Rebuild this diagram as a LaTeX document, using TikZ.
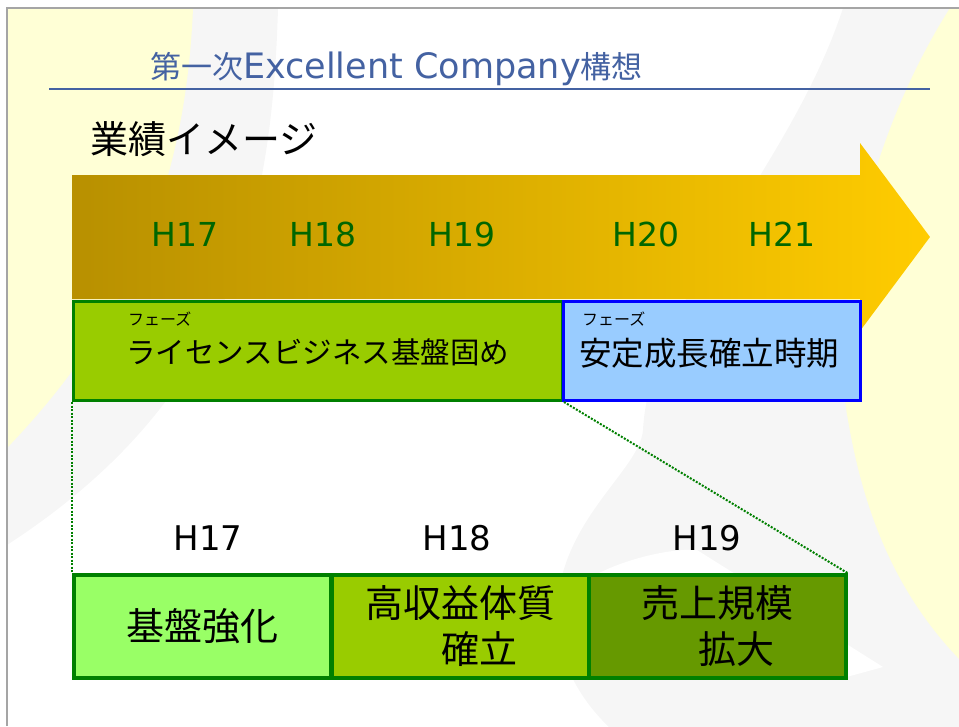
\documentclass[tikz,border=0pt]{standalone}
\usepackage{fontspec}
\setmainfont{DejaVu Sans}
\newfontfamily\cjk{Noto Sans CJK JP}
\usetikzlibrary{positioning}

\definecolor{titleblue}{RGB}{68,98,162}
\definecolor{bgyellow}{RGB}{255,255,214}
\definecolor{bggray}{RGB}{246,246,246}
\definecolor{framegray}{RGB}{165,165,165}
\definecolor{arrowdark}{RGB}{184,144,0}
\definecolor{arrowlight}{RGB}{255,204,0}
\definecolor{yeargreen}{RGB}{0,102,0}
\definecolor{phasegreen}{RGB}{153,204,0}
\definecolor{phaseblue}{RGB}{153,204,255}
\definecolor{stepbright}{RGB}{153,255,102}
\definecolor{stepdark}{RGB}{102,153,0}
\definecolor{edgegreen}{RGB}{0,128,0}

\begin{document}
\begin{tikzpicture}[
        x=1pt, y=-1pt,
        phase/.style={rectangle, anchor=north west, line width=3pt, inner sep=0pt, minimum height=99pt},
        stepbox/.style={rectangle, anchor=north west, draw=edgegreen, line width=3.5pt, inner sep=0pt, minimum width=257pt, minimum height=103pt, align=center, font=\cjk\fontsize{38}{46}\selectfont},
        year/.style={text=yeargreen, inner sep=0pt, font=\fontsize{33}{33}\selectfont},
        subyear/.style={inner sep=0pt, font=\fontsize{34}{34}\selectfont},
        phasetag/.style={anchor=west, inner sep=0pt, font=\cjk\fontsize{16}{16}\selectfont},
        phasename/.style={anchor=west, inner sep=0pt, font=\cjk\fontsize{32.5}{32.5}\selectfont},
        zoomline/.style={edgegreen, line width=2pt, dash pattern=on 2pt off 1.5pt}
    ]
    \useasboundingbox (0,0) rectangle (959,726);

    % Background
    \begin{scope}
        \clip (7,8) rectangle (959,726);
        \fill[bggray] (7,8) -- (278,8) .. controls (272,220) and (230,400) .. (7,545) -- cycle;
        \fill[bgyellow] (7,8) -- (193,8) .. controls (185,200) and (120,330) .. (7,448) -- cycle;
        \fill[bggray] (843,8) .. controls (790,170) and (650,300) .. (643,430)
            .. controls (640,470) and (560,520) .. (557,610)
            .. controls (556,660) and (580,700) .. (612,730) -- (965,730) -- (965,8) -- cycle;
        \fill[white] (697,550) -- (883,667) -- (843,678) -- (590,578) .. controls (620,560) and (670,548) .. (697,550) -- cycle;
        \fill[bgyellow] (950,8) .. controls (860,150) and (830,330) .. (848,420)
            .. controls (865,520) and (900,600) .. (965,665) -- (965,8) -- cycle;
    \end{scope}
    \draw[framegray, line width=2pt] (7,726) -- (7,8) -- (959,8);

    % Title
    \node[anchor=base west, inner sep=0pt, text=titleblue, font=\fontsize{35}{35}\selectfont] (title) at (150,78)
        {{\cjk\fontsize{31}{31}\selectfont 第一次}Excellent Company{\cjk\fontsize{31}{31}\selectfont 構想}};
    \draw[titleblue, line width=2pt] (49,89) -- (930,89);

    \node[anchor=west, inner sep=0pt, font=\cjk\fontsize{38}{38}\selectfont] (heading) at (90,139) {業績イメージ};

    % Time arrow
    \shade[left color=arrowdark, right color=arrowlight] (72,175) -- (860,175) -- (860,143) -- (930,237)
        -- (860,331) -- (860,299) -- (72,299) -- cycle;
    \node[year] (top17) at (185,234) {H17};
    \node[year] (top18) at (323,234) {H18};
    \node[year] (top19) at (462,234) {H19};
    \node[year] (top20) at (646,234) {H20};
    \node[year] (top21) at (782,234) {H21};

    % Phases
    \node[phase, draw=edgegreen, fill=phasegreen, minimum width=489pt] (license) at (72,300) {};
    \node[phase, draw=blue, fill=phaseblue, minimum width=297pt] (stable) at (562,300) {};
    \node[phasetag] (licensetag) at (128,319) {フェーズ};
    \node[phasename, font=\cjk\fontsize{29.5}{29.5}\selectfont] (licensename) at (126,352) {ライセンスビジネス基盤固め};
    \node[phasetag] (stabletag) at (582,319) {フェーズ};
    \node[phasename] (stablename) at (579,353) {安定成長確立時期};

    % Detail of the first phase
    \node[subyear] (low17) at (208,538) {H17};
    \node[subyear] (low18) at (457,538) {H18};
    \node[subyear] (low19) at (707,538) {H19};

    \node[stepbox, fill=stepbright] (base) at (72,573) {基盤強化};
    \node[stepbox, fill=phasegreen] (profit) at (330,573) {高収益体質\\　確立};
    \node[stepbox, fill=stepdark] (scale) at (587,573) {売上規模\\　拡大};

    \draw[zoomline] (license.south west) -- (base.north west);
    \draw[zoomline] (license.south east) -- (scale.north east);

\end{tikzpicture}
\end{document}
